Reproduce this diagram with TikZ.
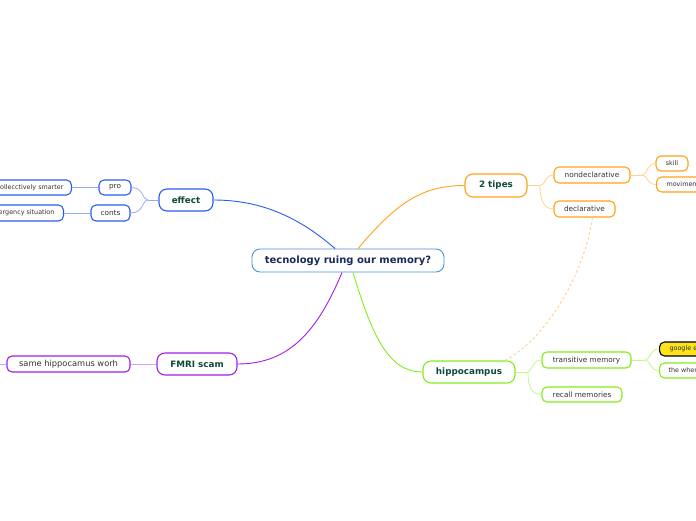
\documentclass[tikz,border=0pt]{standalone}
\usepackage{fontspec}
\setmainfont{DejaVu Sans}
\definecolor{cblue}{HTML}{4A90D9}
\definecolor{bblue}{HTML}{2A5CF2}
\definecolor{lblue}{HTML}{93ACF6}
\definecolor{borange}{HTML}{FFA21A}
\definecolor{lorange}{HTML}{FFD28F}
\definecolor{bgreen}{HTML}{84EC1C}
\definecolor{lgreen}{HTML}{C4F590}
\definecolor{bpurple}{HTML}{A51EE8}
\definecolor{lpurple}{HTML}{D7A2F4}
\definecolor{tnavy}{HTML}{1B2A5A}
\definecolor{tgreen}{HTML}{0E4A3A}
\definecolor{tgray}{HTML}{333333}
\definecolor{gyellow}{HTML}{FFE21A}
\tikzset{
  base/.style={draw, fill=white, inner sep=0pt, align=center},
  central/.style={base, draw=cblue, line width=0.9pt, rounded corners=8pt, text=tnavy, font=\fontsize{10}{11}\selectfont\bfseries},
  mainbox/.style={base, line width=1.1pt, rounded corners=8pt, text=tgreen, font=\fontsize{8.8}{10}\selectfont\bfseries},
  subbox/.style={base, line width=1.1pt, rounded corners=5pt, text=tgray, font=\fontsize{7.3}{8}\selectfont},
  leafbox/.style={base, line width=1.1pt, rounded corners=5pt, text=tgray, font=\fontsize{6.4}{7}\selectfont},
  mainedge/.style={line width=0.9pt},
  subedge/.style={line width=0.8pt},
}
\begin{document}
\begin{tikzpicture}[x=1pt,y=-1pt]
\useasboundingbox (0,0) rectangle (696,520);
\clip (0,0) rectangle (696,520);

% central
\node[central, minimum width=192pt, minimum height=23pt] (c) at (348,260.5) {tecnology ruing our memory?};

% main branches
\node[mainbox, draw=bblue, minimum width=54pt, minimum height=22pt] (e) at (186,200) {effect};
\node[mainbox, draw=borange, minimum width=62pt, minimum height=23pt] (t) at (496,185.5) {2 tipes};
\node[mainbox, draw=bgreen, minimum width=92pt, minimum height=22pt] (h) at (469,372) {hippocampus};
\node[mainbox, draw=bpurple, minimum width=80pt, minimum height=22pt] (f) at (197,364) {FMRI scam};

% effect children
\node[subbox, draw=bblue, minimum width=32pt, minimum height=15pt] (pro) at (115,187.5) {pro};
\node[subbox, draw=bblue, minimum width=39pt, minimum height=16pt] (con) at (110.5,213) {conts};
\node[leafbox, draw=bblue, anchor=east, inner xsep=8pt, minimum height=15pt] (col) at (72,187.5) {collecctively smarter};
\node[leafbox, draw=bblue, anchor=east, inner xsep=9pt, minimum height=16pt] (emg) at (64,213) {emergency situation};

% 2 tipes children
\node[subbox, draw=borange, minimum width=76pt, minimum height=16pt] (nd) at (592,175) {nondeclarative};
\node[subbox, draw=borange, minimum width=61pt, minimum height=16pt] (dc) at (584.5,209) {declarative};
\node[leafbox, draw=borange, minimum width=32pt, minimum height=15pt] (sk) at (672,163.5) {skill};
\node[leafbox, draw=borange, anchor=west, inner xsep=10pt, minimum height=15pt] (mv) at (656,184.5) {movimento};

% hippocampus children
\node[subbox, draw=bgreen, minimum width=89pt, minimum height=16pt] (tr) at (586.5,360) {transitive memory};
\node[subbox, draw=bgreen, minimum width=80pt, minimum height=15pt] (rc) at (582,394.5) {recall memories};
\node[leafbox, draw=black, fill=gyellow, anchor=west, inner xsep=10pt, minimum height=14pt] (ge) at (659,349) {google effect};
\node[leafbox, draw=bgreen, anchor=west, inner xsep=9pt, minimum height=15pt] (tw) at (659,370.5) {the where};

% FMRI child
\node[subbox, draw=bpurple, minimum width=123pt, minimum height=16pt, font=\fontsize{8.3}{9}\selectfont] (sh) at (68.5,364) {same hippocamus worh};
\coordinate (shl) at (0,364);

% main connectors
\draw[mainedge, bblue] ([xshift=-13pt]c.north) .. controls (300,218) and (262,200) .. (e.east);
\draw[mainedge, borange] ([xshift=10pt]c.north) .. controls (395,205) and (420,185.5) .. (t.west);
\draw[mainedge, bgreen] ([xshift=5pt]c.south) .. controls (372,335) and (388,372) .. (h.west);
\draw[mainedge, bpurple] ([xshift=-6pt]c.south) .. controls (318,330) and (290,364) .. (f.east);

% effect fork
\coordinate (ef) at (148,200);
\draw[subedge, lblue] (e.west) -- (ef);
\draw[subedge, lblue] (ef) .. controls (142,200) and (144,187.5) .. (pro.east);
\draw[subedge, lblue] (ef) .. controls (142,200) and (144,213) .. (con.east);
\draw[subedge, lblue] (pro.west) -- (col.east);
\draw[subedge, lblue] (con.west) -- (emg.east);

% 2 tipes fork
\coordinate (tf) at (540,185.5);
\draw[subedge, lorange] (t.east) -- (tf);
\draw[subedge, lorange] (tf) .. controls (546,185.5) and (544,175) .. (nd.west);
\draw[subedge, lorange] (tf) .. controls (540,200) and (544,209) .. (dc.west);
\coordinate (nf) at (642,175);
\draw[subedge, lorange] (nd.east) -- (nf);
\draw[subedge, lorange] (nf) .. controls (648,175) and (646,163.5) .. (sk.west);
\draw[subedge, lorange] (nf) .. controls (648,175) and (646,184.5) .. (mv.west);

% dashed relation
\draw[line width=1pt, lorange, dash pattern=on 2.5pt off 2.5pt] ([xshift=8pt]dc.south) .. controls (585,270) and (550,335) .. ([xshift=-10pt]h.north east);

% hippocampus fork
\coordinate (hf) at (528,372);
\draw[subedge, lgreen] (h.east) -- (hf);
\draw[subedge, lgreen] (hf) .. controls (532,372) and (532,360) .. (tr.west);
\draw[subedge, lgreen] (hf) .. controls (528,388) and (532,394.5) .. (rc.west);
\coordinate (trf) at (645,360);
\draw[subedge, lgreen] (tr.east) -- (trf);
\draw[subedge, lgreen] (trf) .. controls (651,360) and (649,349) .. (ge.west);
\draw[subedge, lgreen] (trf) .. controls (651,360) and (649,370.5) .. (tw.west);

% FMRI
\draw[subedge, lpurple] (f.west) -- (sh.east);
\draw[subedge, lpurple] (sh.west) -- (shl);
\end{tikzpicture}
\end{document}
